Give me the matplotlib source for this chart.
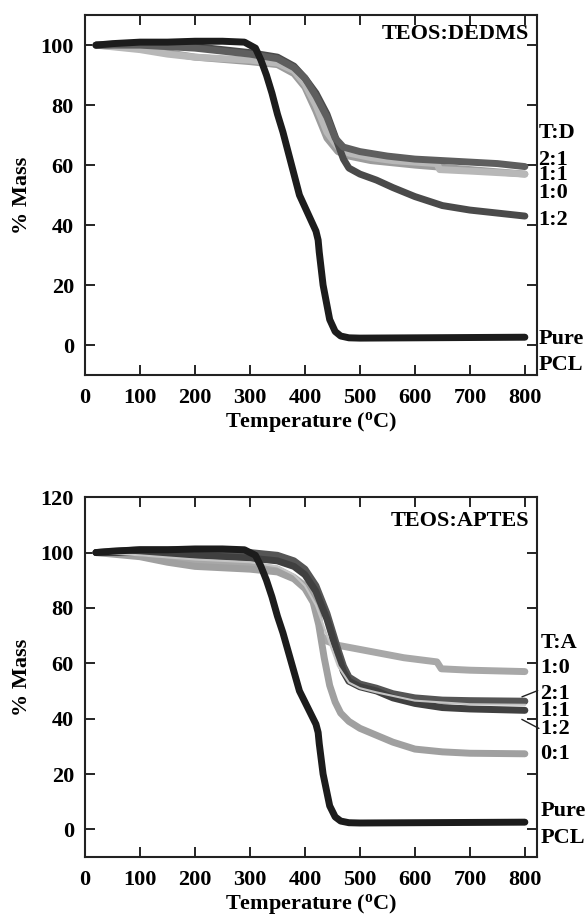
import numpy as np
import matplotlib
matplotlib.use('Agg')
import matplotlib.pyplot as plt

# ---- data (temperature in C, % mass) ----
pcl_T = [20, 50, 100, 150, 200, 250, 290, 310, 320, 330, 340, 350, 360, 370, 380,
         390, 400, 410, 420, 424, 426, 433, 445, 455, 465, 480, 500, 600, 700, 800]
pcl_m = [100, 100.5, 101, 101, 101.3, 101.3, 101, 99, 95, 90, 84, 77, 71, 64, 57,
         50, 46, 42, 38, 35, 31, 20, 8.5, 4.5, 3, 2.4, 2.3, 2.4, 2.5, 2.6]

# TEOS:DEDMS
d12_T = [20, 100, 200, 300, 350, 380, 400, 420, 440, 460, 470, 480, 500, 530, 560, 600, 650, 700, 750, 800]
d12_m = [100, 100.5, 99.5, 97.5, 96, 93, 89, 84, 77, 67, 62, 59, 57, 55, 52.5, 49.5, 46.5, 45, 44, 43]
d21_T = [20, 100, 200, 300, 350, 380, 400, 420, 440, 455, 470, 500, 550, 600, 650, 700, 750, 800]
d21_m = [100, 100, 99, 97, 95.5, 92.5, 89, 83, 76, 69, 66, 64.5, 63, 62, 61.5, 61, 60.5, 59.5]
d11_T = [20, 100, 150, 200, 250, 300, 350, 380, 400, 420, 440, 460, 480, 520, 560, 600, 640, 645, 700, 750, 800]
d11_m = [100, 98.5, 97, 96, 95.5, 95, 94, 91.5, 87, 80, 71, 66, 64, 62.5, 61.5, 61, 60.5, 58.5, 58, 57.5, 57]
d10_T = [20, 100, 200, 300, 350, 380, 400, 420, 440, 460, 480, 520, 600, 700, 800]
d10_m = [100, 99, 96, 94.5, 93.5, 90.5, 86, 78, 69, 64.5, 63, 61.5, 60, 58.5, 57]

# TEOS:APTES
a10_T = [20, 100, 200, 300, 350, 380, 400, 415, 425, 430, 440, 460, 500, 540, 580, 620, 640, 648, 700, 800]
a10_m = [100, 99.5, 97, 95.5, 94, 91, 88, 84, 77, 70, 68, 66.5, 65, 63.5, 62, 61, 60.5, 58, 57.5, 57]
a01_T = [20, 100, 150, 200, 300, 350, 380, 400, 415, 425, 435, 445, 455, 465, 480, 500, 530, 560, 600, 650, 700, 800]
a01_m = [100, 98.5, 96.5, 95, 94, 93, 90.5, 87, 82, 74, 62, 52, 46, 42, 39, 36.5, 34, 31.5, 29, 28, 27.5, 27.3]
a21_T = [20, 100, 200, 300, 350, 380, 400, 420, 440, 460, 470, 480, 500, 530, 560, 600, 650, 700, 800]
a21_m = [100, 101, 101, 100, 99, 97, 94, 88, 78, 65, 59, 55, 52.5, 51, 49, 47.5, 46.7, 46.5, 46.3]
a11_T = [20, 100, 200, 300, 350, 380, 400, 420, 440, 460, 480, 500, 530, 600, 700, 800]
a11_m = [100, 99, 97.5, 96.5, 95, 92, 88, 81, 70, 59, 53, 51, 49.5, 46.5, 45.2, 45]
a12_T = [20, 100, 200, 300, 350, 380, 400, 420, 440, 460, 470, 480, 500, 530, 560, 600, 650, 700, 800]
a12_m = [100, 100, 99, 98, 97, 95, 92, 86, 76, 63, 57, 53.5, 51.5, 50, 47.5, 45.5, 44, 43.5, 43]

xticks = [0, 100, 200, 300, 400, 500, 600, 700, 800]
top_yticks = [0, 20, 40, 60, 80, 100]
bot_yticks = [0, 20, 40, 60, 80, 100, 120]

plt.rcParams['font.family'] = ['Liberation Serif', 'DejaVu Serif']
plt.rcParams['font.weight'] = 'bold'
plt.rcParams['mathtext.fontset'] = 'custom'
plt.rcParams['mathtext.rm'] = 'Liberation Serif:bold'

FS = 16
LW = 5
BLACK = '#1c1c1c'

fig = plt.figure(figsize=(5.85, 9.18), dpi=100)
ax1 = fig.add_axes([0.1453, 0.5915, 0.7726, 0.392])
ax2 = fig.add_axes([0.1453, 0.0664, 0.7726, 0.392])


def style(ax, yticks, ylim):
    ax.set_xlim(0, 822)
    ax.set_ylim(*ylim)
    ax.set_xticks(xticks)
    ax.set_yticks(yticks)
    ax.tick_params(direction='in', top=True, right=True, length=7, width=1.2,
                   labelsize=FS)
    ax.tick_params(axis='x', pad=9)
    ax.tick_params(axis='y', pad=8)
    for s in ax.spines.values():
        s.set_linewidth(1.5)
        s.set_color('#222222')
    ax.set_xlabel('Temperature ($\\mathrm{^{o}}$C)', fontsize=FS, fontweight='bold', labelpad=2)
    ax.set_ylabel('% Mass', fontsize=FS, fontweight='bold', labelpad=6)


# top panel
ax1.plot(d10_T, d10_m, color='#9c9c9c', lw=LW, solid_capstyle='round')
ax1.plot(d11_T, d11_m, color='#b8b8b8', lw=LW, solid_capstyle='round')
ax1.plot(d12_T, d12_m, color='#4a4a4a', lw=LW, solid_capstyle='round')
ax1.plot(d21_T, d21_m, color='#5e5e5e', lw=LW, solid_capstyle='round')
ax1.plot(pcl_T, pcl_m, color=BLACK, lw=LW, solid_capstyle='round')
style(ax1, top_yticks, (-10, 110))
ax1.text(808, 100.3, 'TEOS:DEDMS', ha='right', va='bottom', fontsize=FS, fontweight='bold')
tr1 = ax1.get_yaxis_transform()
for lab, y in [('T:D', 70.7), ('2:1', 61.7), ('1:1', 56.7), ('1:0', 50.7),
               ('1:2', 41.7), ('Pure', 2), ('PCL', -6.7)]:
    ax1.text(1.003, y, lab, transform=tr1, ha='left', va='center', fontsize=FS,
             fontweight='bold', clip_on=False)

# bottom panel
ax2.plot(a10_T, a10_m, color='#a8a8a8', lw=LW, solid_capstyle='round')
ax2.plot(a01_T, a01_m, color='#a0a0a0', lw=LW, solid_capstyle='round')
ax2.plot(a21_T, a21_m, color='#555555', lw=LW, solid_capstyle='round')
ax2.plot(a12_T, a12_m, color='#404040', lw=LW, solid_capstyle='round')
ax2.plot(a11_T, a11_m, color='#c4c4c4', lw=1.5)
ax2.plot(pcl_T, pcl_m, color=BLACK, lw=LW, solid_capstyle='round')
style(ax2, bot_yticks, (-10, 120))
ax2.text(808, 111.5, 'TEOS:APTES', ha='right', va='center', fontsize=FS, fontweight='bold')
tr2 = ax2.get_yaxis_transform()
for lab, y in [('T:A', 67.4), ('1:0', 58.3), ('2:1', 48.9), ('1:1', 42.8),
               ('1:2', 36.3), ('0:1', 27.2), ('Pure', 6.5), ('PCL', -3.2)]:
    ax2.text(1.008, y, lab, transform=tr2, ha='left', va='center', fontsize=FS,
             fontweight='bold', clip_on=False)
ax2.annotate('', xy=(790, 47.5), xytext=(828, 50.5),
             arrowprops=dict(arrowstyle='-', lw=1, color='#222222'), annotation_clip=False)
ax2.annotate('', xy=(790, 40.2), xytext=(830, 36.0),
             arrowprops=dict(arrowstyle='-', lw=1, color='#222222'), annotation_clip=False)

plt.savefig('out.png', dpi=100)
plt.close()
